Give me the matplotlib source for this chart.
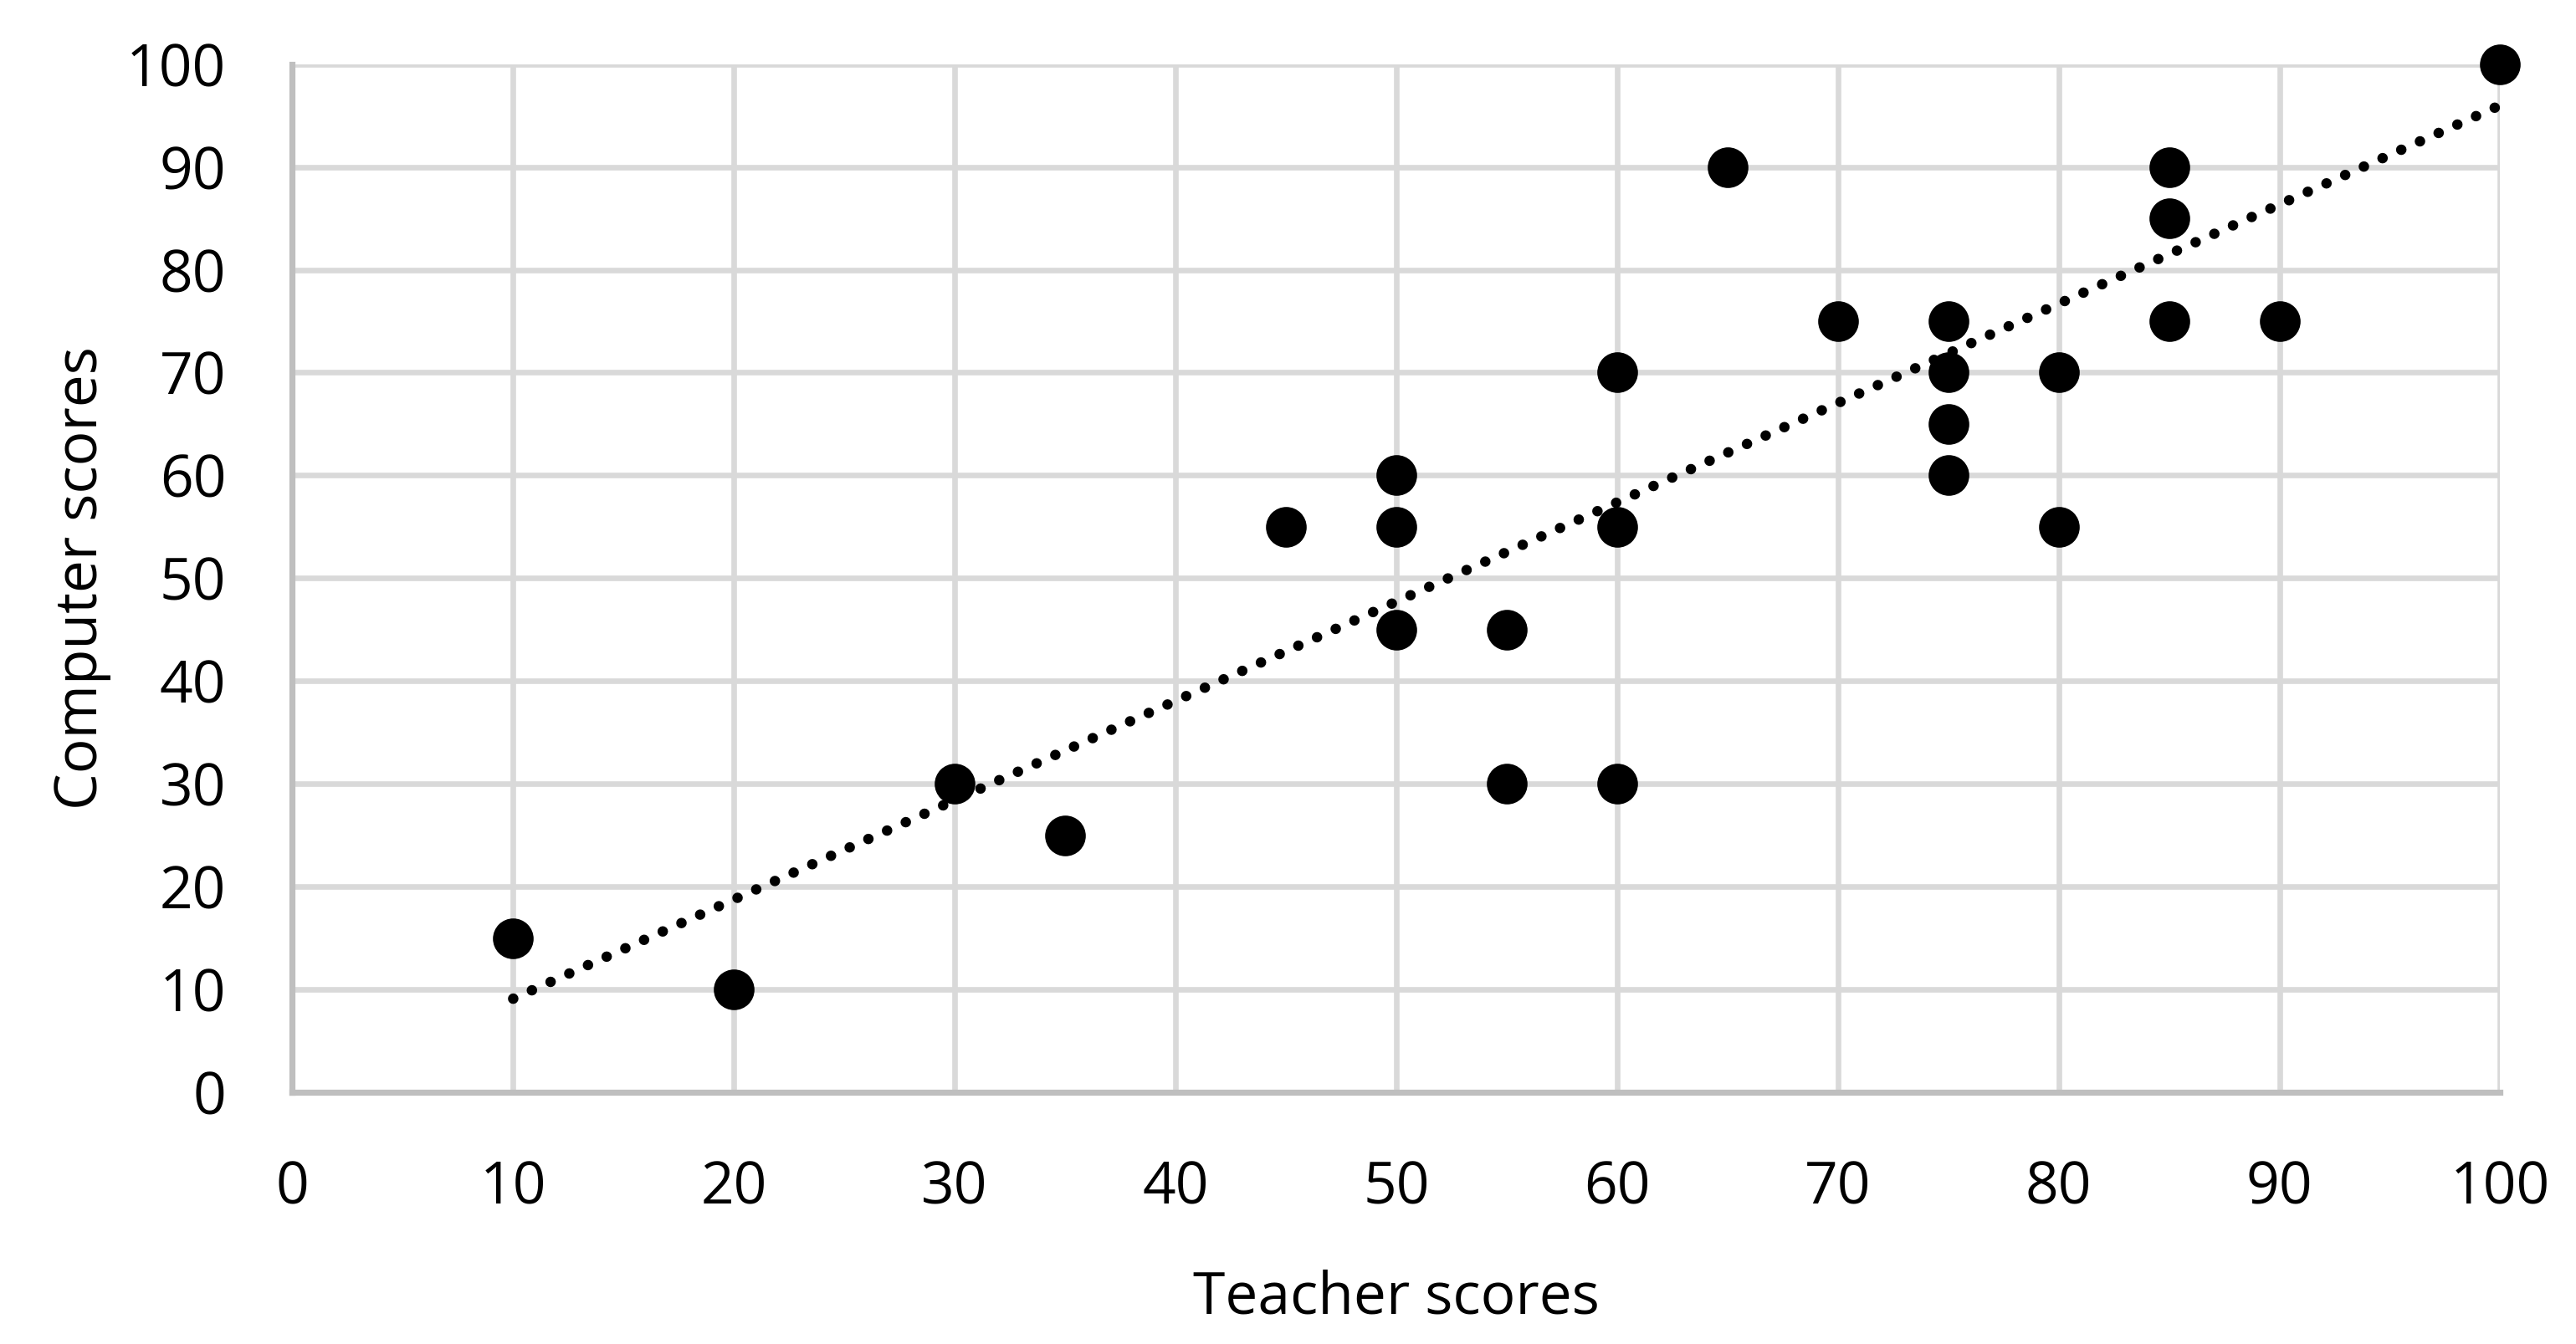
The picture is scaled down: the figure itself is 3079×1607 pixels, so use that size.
import numpy as np
import matplotlib
matplotlib.use("Agg")
import matplotlib.pyplot as plt

# data
teacher_scores = [10, 20, 30, 35, 45, 50, 50, 50, 55, 55, 60, 60, 60, 65,
                  70, 75, 75, 75, 75, 80, 80, 85, 85, 85, 90, 100]
computer_scores = [15, 10, 30, 25, 55, 60, 55, 45, 45, 30, 70, 55, 30, 90,
                   75, 75, 70, 65, 60, 70, 55, 90, 85, 75, 75, 100]
# dotted linear trendline, end values
trend_x = [10, 100]
trend_y = [9.1, 96.0]
ticks = [0, 10, 20, 30, 40, 50, 60, 70, 80, 90, 100]

plt.rcParams['font.family'] = ['Open Sans', 'DejaVu Sans']

fig = plt.figure(figsize=(30.79, 16.07), dpi=100)
ax = fig.add_axes([0.1135, 0.1873, 0.8571, 0.7650])

grid_col = '#D9D9D9'
axis_col = '#BFBFBF'

ax.set_xlim(0, 100)
ax.set_ylim(0, 100)
ax.set_xticks(ticks)
ax.set_yticks(ticks)
ax.grid(True, color=grid_col, linewidth=4.8, zorder=0)
ax.set_axisbelow(True)

for side in ['top', 'right']:
    ax.spines[side].set_visible(False)
for side in ['left', 'bottom']:
    ax.spines[side].set_color(axis_col)
    ax.spines[side].set_linewidth(5.2)
    ax.spines[side].set_zorder(1)

ax.tick_params(axis='both', length=0, labelsize=50, colors='black')
ax.tick_params(axis='x', pad=58)
ax.tick_params(axis='y', pad=57)

ax.plot(trend_x, trend_y, color='black', linewidth=9,
        linestyle=(0, (0.01, 1.95)), dash_capstyle='round', zorder=2)

ax.plot(teacher_scores, computer_scores, linestyle='none', marker='o',
        markersize=35, color='black', markeredgewidth=0, clip_on=False,
        zorder=3)

ax.set_xlabel('Teacher scores', fontsize=50, labelpad=44)
ax.set_ylabel('Computer scores', fontsize=50, labelpad=13)

fig.savefig('out.png', dpi=100, facecolor='white')
